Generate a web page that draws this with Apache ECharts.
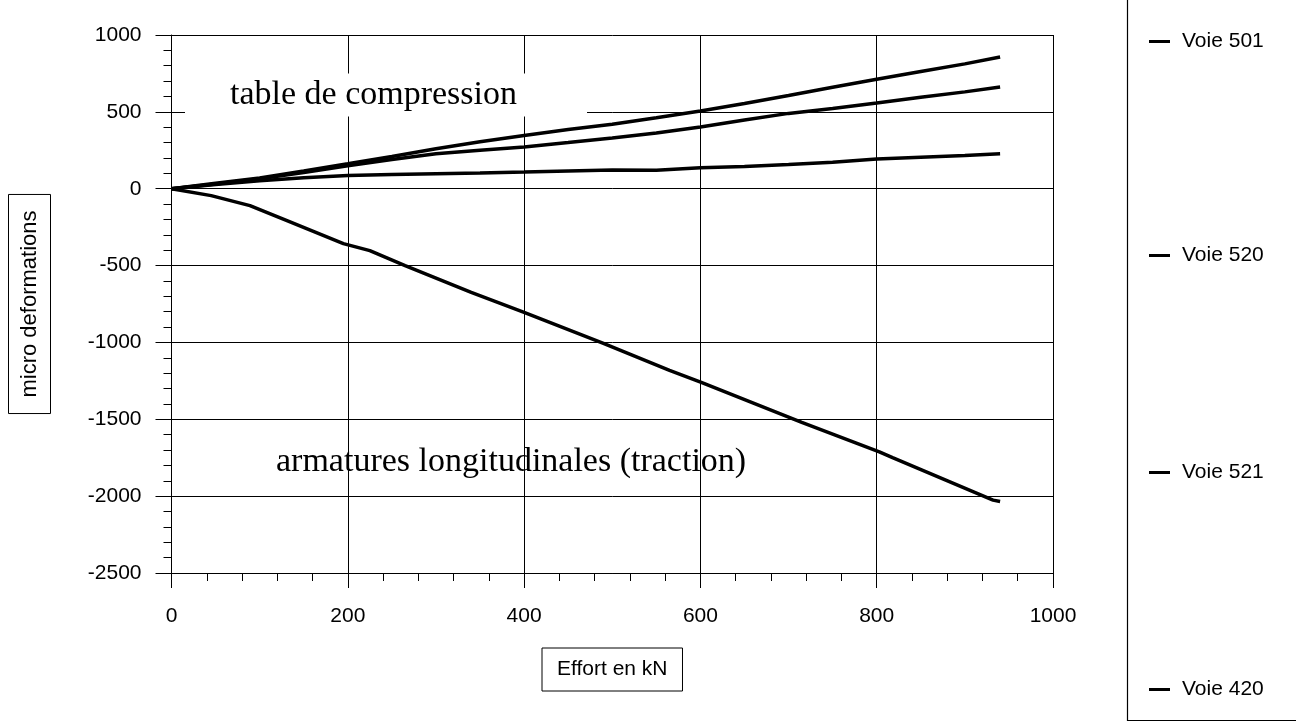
<!DOCTYPE html>
<html>
<head>
<meta charset="utf-8">
<script src="https://cdn.jsdelivr.net/npm/echarts@6/dist/echarts.min.js"></script>
<style>
html,body{margin:0;padding:0;background:#fff;}
#chart{width:1296px;height:722px;}
</style>
</head>
<body>
<div id="chart"></div>
<script>
// ---- data ----
const seriesNames = ['Voie 501', 'Voie 520', 'Voie 521', 'Voie 420'];
const effortUpper = [0, 50, 100, 150, 200, 250, 300, 350, 400, 450, 500, 550, 600, 650, 700, 750, 800, 850, 900, 940];
const voie501 = [0, 35, 70, 115, 162, 210, 260, 305, 346, 385, 420, 462, 506, 555, 606, 660, 712, 762, 812, 857];
const voie520 = [0, 30, 65, 105, 150, 190, 228, 250, 271, 300, 330, 362, 402, 447, 490, 522, 558, 595, 630, 662];
const voie521 = [0, 28, 52, 72, 86, 92, 97, 102, 108, 115, 122, 120, 136, 145, 158, 172, 194, 205, 216, 227];
const effort420 = [0, 45, 89, 131, 195, 225, 265, 340, 400, 490, 565, 601, 715, 803, 818, 932, 940];
const voie420 = [0, -45, -110, -208, -357, -403, -500, -675, -805, -1006, -1182, -1260, -1520, -1712, -1750, -2026, -2035];
const xTicks = [0, 200, 400, 600, 800, 1000];
const yTicks = [-2500, -2000, -1500, -1000, -500, 0, 500, 1000];
const xTitle = 'Effort en kN';
const yTitle = 'micro deformations';
const noteTop = 'table de compression';
const noteBottom = 'armatures longitudinales (traction)';

function pairs(xs, ys) { return xs.map((x, i) => [x, ys[i]]); }
const seriesData = [pairs(effortUpper, voie501), pairs(effortUpper, voie520), pairs(effortUpper, voie521), pairs(effort420, voie420)];

const SANS = '"Liberation Sans", Arial, Helvetica, sans-serif';
const SERIF = '"Liberation Serif", "Times New Roman", serif';
const legendTops = [31, 245, 462, 679];

const chart = echarts.init(document.getElementById('chart'), null, {renderer: 'canvas'});
const option = {
  animation: false,
  backgroundColor: '#fff',
  grid: {left: 171, right: 243, top: 35, bottom: 149, containLabel: false},
  xAxis: {
    type: 'value', min: xTicks[0], max: xTicks[xTicks.length - 1], interval: 200,
    name: xTitle, nameLocation: 'middle', nameGap: 75,
    nameTextStyle: {fontFamily: SANS, fontSize: 21, color: '#000', borderColor: '#000', borderWidth: 1, padding: [11, 15, 11, 15]},
    axisLine: {show: true, onZero: false, lineStyle: {color: '#000', width: 1}},
    axisTick: {show: true, length: 15, lineStyle: {color: '#000'}},
    minorTick: {show: true, splitNumber: 5, length: 8, lineStyle: {color: '#000'}},
    axisLabel: {fontFamily: SANS, fontSize: 21, color: '#000', margin: 33, formatter: v => String(v)},
    splitLine: {show: true, lineStyle: {color: '#000', width: 1}}
  },
  yAxis: {
    type: 'value', min: yTicks[0], max: yTicks[yTicks.length - 1], interval: 500,
    name: yTitle, nameLocation: 'middle', nameRotate: 90, nameGap: 121,
    nameTextStyle: {fontFamily: SANS, fontSize: 22, color: '#000', borderColor: '#000', borderWidth: 1, padding: [10, 16, 10, 16]},
    axisLine: {show: true, onZero: false, lineStyle: {color: '#000', width: 1}},
    axisTick: {show: true, length: 16, lineStyle: {color: '#000'}},
    minorTick: {show: true, splitNumber: 5, length: 8, lineStyle: {color: '#000'}},
    axisLabel: {fontFamily: SANS, fontSize: 21, color: '#000', margin: 30, formatter: v => String(v)},
    splitLine: {show: true, lineStyle: {color: '#000', width: 1}}
  },
  legend: seriesNames.map((n, i) => ({
    data: [n], orient: 'vertical', left: 1149, top: legendTops[i], padding: 0,
    icon: 'rect', itemWidth: 21, itemHeight: 3,
    textStyle: {fontFamily: SANS, fontSize: 21, color: '#000', padding: [0, 0, 0, 7]},
    selectedMode: false
  })),
  graphic: [
    {type: 'rect', left: 1125, top: -5, z: 0, shape: {x: 0, y: 0, width: 200, height: 723},
     style: {fill: 'none', stroke: '#000', lineWidth: 1.2}, silent: true},
    {type: 'text', x: 185, y: 95, z: 1,
     style: {text: noteTop, font: '34px ' + SERIF, fill: '#000', align: 'left', verticalAlign: 'middle',
             backgroundColor: '#fff', padding: [4, 70, 5, 45]}},
    {type: 'text', x: 276, y: 462, z: 1,
     style: {text: noteBottom, font: '34px ' + SERIF, fill: '#000', align: 'left', verticalAlign: 'middle'}}
  ],
  series: seriesNames.map((n, i) => ({
    name: n, type: 'line', data: seriesData[i], showSymbol: false, symbol: 'none', z: 3,
    lineStyle: {color: '#000', width: 3.5}, itemStyle: {color: '#000'}
  }))
};
chart.setOption(option);
</script>
</body>
</html>
